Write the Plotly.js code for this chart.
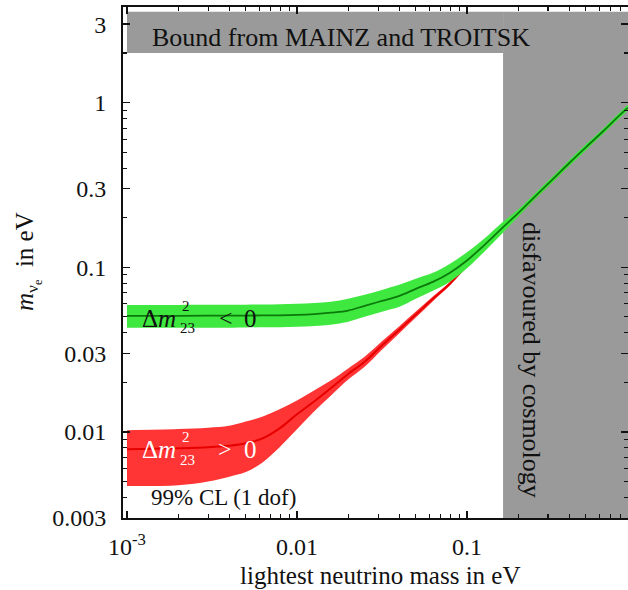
<!DOCTYPE html>
<html>
<head>
<meta charset="utf-8">
<script src="https://cdn.plot.ly/plotly-3.0.1.min.js"></script>
<style>html,body{margin:0;padding:0;background:#fff;}#plot{width:628px;height:590px;}</style>
</head>
<body>
<div id="plot"></div>
<script>
// lightest neutrino mass (eV)
const lightestMass = [0.001, 0.002, 0.003, 0.004, 0.005, 0.0063, 0.0079, 0.01, 0.0126, 0.0158, 0.02, 0.025, 0.0316, 0.04, 0.05, 0.063, 0.079, 0.1, 0.126, 0.158, 0.2, 0.25, 0.32, 0.4, 0.5, 0.63, 0.8, 0.885];

// Δm²23 > 0 (normal) : red band
const normalCentral = [0.00785, 0.00796, 0.00807, 0.00824, 0.00853, 0.00915, 0.0105, 0.0128, 0.0153, 0.0184, 0.0225, 0.0267, 0.0335, 0.0418, 0.0516, 0.0643, 0.0792, 0.103, 0.13, 0.164, 0.209, 0.264, 0.338, 0.424, 0.528, 0.662, 0.84, 0.925];
const normalLow = [0.00469, 0.00475, 0.00500, 0.00535, 0.0057, 0.00655, 0.00807, 0.01037, 0.0133, 0.0166, 0.0208, 0.0249, 0.0316, 0.0398, 0.0495, 0.0622, 0.0772, 0.1005, 0.127, 0.160, 0.204, 0.258, 0.331, 0.416, 0.518, 0.650, 0.826, 0.91];
const normalHigh = [0.01023, 0.0104, 0.0106, 0.0109, 0.01155, 0.01242, 0.01371, 0.01552, 0.01786, 0.0205, 0.0243, 0.0286, 0.0355, 0.0438, 0.0538, 0.0665, 0.0812, 0.1055, 0.133, 0.168, 0.214, 0.270, 0.345, 0.432, 0.538, 0.674, 0.854, 0.94];

// Δm²23 < 0 (inverted) : green band
const invertedCentral = [0.0507, 0.0507, 0.0508, 0.0508, 0.0509, 0.0510, 0.0511, 0.0514, 0.0520, 0.0530, 0.0546, 0.0583, 0.0625, 0.067, 0.074, 0.0815, 0.0924, 0.110, 0.136, 0.170, 0.213, 0.268, 0.343, 0.430, 0.535, 0.668, 0.848, 0.932];
const invertedLow = [0.0429, 0.0429, 0.0430, 0.0430, 0.0431, 0.0432, 0.0433, 0.0435, 0.0440, 0.0448, 0.0467, 0.050, 0.0537, 0.0575, 0.0643, 0.072, 0.0815, 0.0985, 0.124, 0.157, 0.203, 0.257, 0.329, 0.413, 0.513, 0.642, 0.815, 0.895];
const invertedHigh = [0.0591, 0.0591, 0.0592, 0.0593, 0.0593, 0.0594, 0.0596, 0.060, 0.0606, 0.0617, 0.0643, 0.068, 0.0729, 0.0782, 0.0852, 0.0925, 0.1047, 0.1235, 0.149, 0.184, 0.224, 0.280, 0.357, 0.448, 0.558, 0.695, 0.882, 0.97];

// excluded regions
const cosmologyX = [0.163, 1.0];
const mainzX = [0.001, 0.163];
const mainzBound = 2.0;
const regionTop = 3.57;
const regionBottom = 0.002;

// ticks
const yTickVals = [0.003, 0.01, 0.03, 0.1, 0.3, 1, 3];
const yTickText = ['0.003', '0.01', '0.03', '0.1', '0.3', '1', '3'];
const yMinorVals = [0.004, 0.005, 0.006, 0.007, 0.008, 0.009, 0.02, 0.04, 0.05, 0.06, 0.07, 0.08, 0.09, 0.2, 0.4, 0.5, 0.6, 0.7, 0.8, 0.9, 2];
const xTickVals = [0.001, 0.01, 0.1];
const xTickText = ['10<sup>-3</sup>', '0.01', '0.1'];
const xMinorVals = [0.002, 0.003, 0.004, 0.005, 0.006, 0.007, 0.008, 0.009, 0.02, 0.03, 0.04, 0.05, 0.06, 0.07, 0.08, 0.09, 0.2, 0.3, 0.4, 0.5, 0.6, 0.7, 0.8, 0.9];

const GRAY = '#9a9a9a';
const RED_FILL = '#ff3434';
const RED_LINE = '#e60000';
const GREEN_FILL = '#3fe83f';
const GREEN_LINE = '#0b7a0b';
const FONT = '"Liberation Serif", "Times New Roman", Times, serif';
const SM = 1.0;

const traces = [
  {x: [cosmologyX[0], cosmologyX[1], cosmologyX[1], cosmologyX[0], cosmologyX[0]],
   y: [regionBottom, regionBottom, regionTop, regionTop, regionBottom],
   mode: 'lines', fill: 'toself', fillcolor: GRAY, line: {width: 0, color: GRAY}, hoverinfo: 'skip'},
  {x: [mainzX[0], mainzX[1], mainzX[1], mainzX[0], mainzX[0]],
   y: [mainzBound, mainzBound, regionTop, regionTop, mainzBound],
   mode: 'lines', fill: 'toself', fillcolor: GRAY, line: {width: 0, color: GRAY}, hoverinfo: 'skip'},
  {x: lightestMass, y: normalLow, mode: 'lines', line: {width: 0, color: RED_FILL, shape: 'spline', smoothing: SM}, hoverinfo: 'skip'},
  {x: lightestMass, y: normalHigh, mode: 'lines', fill: 'tonexty', fillcolor: RED_FILL, line: {width: 0, color: RED_FILL, shape: 'spline', smoothing: SM}, hoverinfo: 'skip'},
  {x: lightestMass, y: normalCentral, mode: 'lines', line: {width: 2, color: RED_LINE, shape: 'spline', smoothing: SM}},
  {x: lightestMass, y: invertedLow, mode: 'lines', line: {width: 0, color: GREEN_FILL, shape: 'spline', smoothing: SM}, hoverinfo: 'skip'},
  {x: lightestMass, y: invertedHigh, mode: 'lines', fill: 'tonexty', fillcolor: GREEN_FILL, line: {width: 0, color: GREEN_FILL, shape: 'spline', smoothing: SM}, hoverinfo: 'skip'},
  {x: lightestMass, y: invertedCentral, mode: 'lines', line: {width: 1.8, color: GREEN_LINE, shape: 'spline', smoothing: SM}}
];

const L = 123, R = 628, T = 7, B = 518;
function px(x) { return (x - L) / (R - L); }
function py(y) { return (B - y) / (B - T); }
function ann(text, x, y, size, color, opts) {
  return Object.assign({text: text, xref: 'paper', yref: 'paper', x: px(x), y: py(y),
    showarrow: false, font: {family: FONT, size: size, color: color || '#111'},
    xanchor: 'left', yanchor: 'middle'}, opts || {});
}

const annotations = [
  ann('Bound from MAINZ and TROITSK', 150, 37, 26, '#111'),
  ann('disfavoured by cosmology', 532, 360, 26, '#111', {textangle: 90, xanchor: 'center'}),
  ann('99% CL (1 dof)', 149, 497, 23, '#111'),
  // green label
  ann('Δ<i>m</i>', 140, 318, 25, '#111'),
  ann('2', 180, 306, 15, '#111'),
  ann('23', 178, 328, 15, '#111'),
  ann('<', 217, 318, 24, '#111'),
  ann('0', 242, 318, 25, '#111'),
  // red label
  ann('Δ<i>m</i>', 140, 449, 25, '#fff'),
  ann('2', 180, 437, 15, '#fff'),
  ann('23', 178, 460, 15, '#fff'),
  ann('>', 216, 449, 24, '#fff'),
  ann('0', 242, 449, 25, '#fff'),
  // axis titles
  ann('lightest neutrino mass in eV', 380, 575, 25, '#111', {xanchor: 'center'}),
  ann('<i>m</i><sub>ν<sub>e</sub></sub>  in eV', 28, 262, 25, '#111', {textangle: -90, xanchor: 'center'})
];

const layout = {
  width: 628, height: 590,
  margin: {l: L, r: 628 - R, t: T, b: 590 - B, pad: 0},
  paper_bgcolor: '#fff', plot_bgcolor: '#fff',
  showlegend: false,
  font: {family: FONT, size: 24, color: '#111'},
  xaxis: {
    type: 'log', range: [-3.0235, -0.0529],
    tickmode: 'array', tickvals: xTickVals, ticktext: xTickText,
    ticks: 'inside', ticklen: 7, tickwidth: 1.5, tickcolor: '#111',
    minor: {tickmode: 'array', tickvals: xMinorVals, ticks: 'inside', ticklen: 4, tickwidth: 1.2, tickcolor: '#111', showgrid: false},
    showline: true, linewidth: 2, linecolor: '#111', mirror: 'ticks',
    showgrid: false, zeroline: false,
    tickfont: {family: FONT, size: 24, color: '#111'},
    ticklabelstandoff: 6
  },
  yaxis: {
    type: 'log', range: [Math.log10(0.003), 0.581],
    tickmode: 'array', tickvals: yTickVals, ticktext: yTickText,
    ticks: 'inside', ticklen: 7, tickwidth: 1.5, tickcolor: '#111',
    minor: {tickmode: 'array', tickvals: yMinorVals, ticks: 'inside', ticklen: 4, tickwidth: 1.2, tickcolor: '#111', showgrid: false},
    showline: true, linewidth: 2, linecolor: '#111', mirror: 'ticks',
    showgrid: false, zeroline: false,
    tickfont: {family: FONT, size: 24, color: '#111'},
    ticklabelstandoff: 10
  },
  annotations: annotations
};

Plotly.newPlot('plot', traces, layout, {staticPlot: true, displayModeBar: false});
</script>
</body>
</html>
